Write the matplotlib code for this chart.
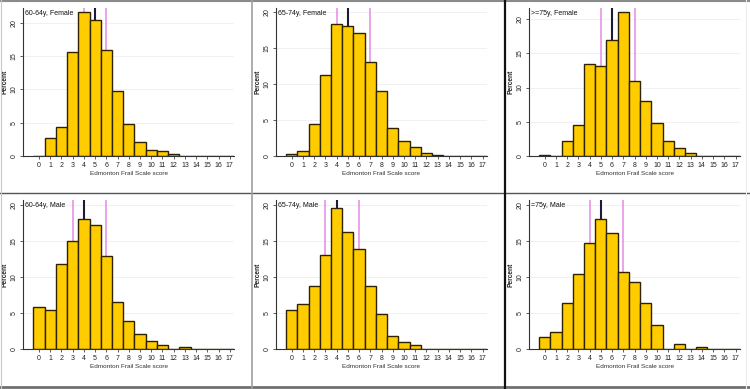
import numpy as np
import matplotlib.pyplot as plt
from matplotlib.lines import Line2D

plt.rcParams['font.family'] = ['Liberation Sans', 'DejaVu Sans']

# Edmonton Frail Scale score bins
scores = list(range(18))

# percent per score
female_60_64 = [0, 2.65, 4.3, 15.6, 21.65, 20.45, 15.85, 9.7, 4.85, 2.05, 0.85, 0.8, 0.25, 0, 0, 0, 0, 0]
female_65_74 = [0.28, 0.69, 4.4, 11.3, 18.3, 18.0, 17.0, 13.1, 8.95, 3.83, 2.03, 1.2, 0.42, 0.14, 0, 0, 0, 0]
female_75 = [0.15, 0, 2.2, 4.5, 13.4, 13.1, 17.0, 21.1, 10.9, 8.1, 4.8, 2.15, 1.17, 0.4, 0, 0, 0, 0]
male_60_64 = [5.79, 5.37, 11.8, 14.95, 18.0, 17.2, 12.9, 6.53, 3.84, 2.08, 1.06, 0.5, 0, 0.32, 0, 0, 0, 0]
male_65_74 = [5.37, 6.3, 8.75, 13.05, 19.6, 16.2, 13.9, 8.8, 4.86, 1.76, 1.02, 0.56, 0, 0.05, 0.05, 0, 0, 0]
male_75 = [1.62, 2.31, 6.34, 10.37, 14.7, 18.05, 16.06, 10.65, 9.35, 6.34, 3.33, 0, 0.65, 0, 0.32, 0, 0, 0]

titles = ['60-64y, Female', '65-74y, Female', '>=75y, Female',
          '60-64y, Male', '65-74y, Male', '=75y, Male']
series = [female_60_64, female_65_74, female_75, male_60_64, male_65_74, male_75]
# quartiles: lower, median, upper
q1 = [4, 4, 5, 3, 3, 4]
medians = [5, 5, 6, 4, 4, 5]
q3 = [6, 7, 8, 6, 6, 7]
ytops = [22.3, 20.6, 21.7, 20.7, 20.7, 20.7]

W, H = 750, 389
fig = plt.figure(figsize=(7.5, 3.89), dpi=100)

lefts = [23.3, 276, 529]
tops = [7.5, 200]
bottoms = [156, 349]
width_px = 211

bar_color = '#FFCC00'
edge_color = '#2e2200'
pink = '#E68BE6'
dark = '#1c1c38'

for i, vals in enumerate(series):
    r, c = divmod(i, 3)
    l = lefts[c] / W
    b = 1 - bottoms[r] / H
    h = (bottoms[r] - tops[r]) / H
    ax = fig.add_axes([l, b, width_px / W, h])
    ax.set_xlim(-1.4, 17.4)
    ax.set_ylim(0, ytops[i])
    for y in [5, 10, 15, 20]:
        ax.axhline(y, color='#efefef', lw=0.6, zorder=0)
    ax.axvline(q1[i], color=pink, lw=1.1, zorder=1)
    ax.axvline(q3[i], color=pink, lw=1.1, zorder=1)
    ax.axvline(medians[i], color=dark, lw=1.5, zorder=1)
    ax.bar(scores, vals, width=1.0, color=bar_color, edgecolor=edge_color,
           linewidth=1.0, zorder=2)
    ax.set_xticks(scores)
    ax.set_xticklabels([str(s) for s in scores], fontsize=5.0, color='#222222')
    ax.set_yticks([0, 5, 10, 15, 20])
    ax.set_yticklabels(['0', '5', '10', '15', '20'], fontsize=5.0, rotation=90,
                       va='center', color='#222222')
    ax.tick_params(length=2.5, width=0.6, pad=1.5, color='#444444')
    for s in ['top', 'right']:
        ax.spines[s].set_visible(False)
    for s in ['left', 'bottom']:
        ax.spines[s].set_linewidth(0.8)
        ax.spines[s].set_color('#333333')
    ax.set_xlabel('Edmonton Frail Scale score', fontsize=4.6, color='#333333', labelpad=1.5)
    ax.set_ylabel('Percent', fontsize=4.8, color='#222222', fontweight='bold')
    ax.yaxis.set_label_coords(-0.068, 0.5)
    ax.text(0.008, 0.985, titles[i], transform=ax.transAxes,
            fontsize=5.0, va='top', ha='left', color='#111111', zorder=5)

# panel frame lines
def hline(y, color, lw):
    fig.add_artist(Line2D([0, 1], [1 - y / H, 1 - y / H], color=color, lw=lw,
                          transform=fig.transFigure))

def vline(x, color, lw, y0=0, y1=H):
    fig.add_artist(Line2D([x / W, x / W], [1 - y1 / H, 1 - y0 / H], color=color, lw=lw,
                          transform=fig.transFigure))

hline(0.5, '#8a8a8a', 1.5)
hline(193, '#555555', 1.0)
hline(386.5, '#707070', 2.0)
vline(252, '#a0a0a0', 1.2)
vline(505, '#111111', 1.6)
vline(0.5, '#c8c8c8', 0.8)
vline(746, '#eeeeee', 0.8)

fig.savefig('out.png', dpi=100)
